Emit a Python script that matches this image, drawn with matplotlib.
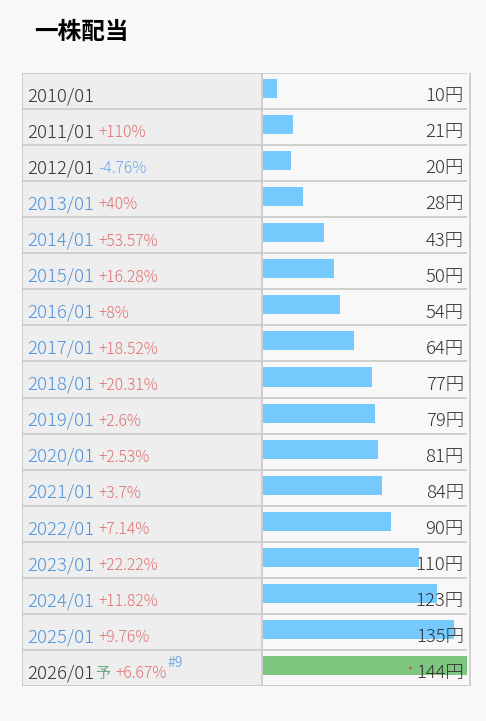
import matplotlib.pyplot as plt
from matplotlib.patches import Rectangle

plt.rcParams['font.family'] = ['Noto Sans CJK JP', 'DejaVu Sans']

# data
months = ["2010/01", "2011/01", "2012/01", "2013/01", "2014/01", "2015/01",
          "2016/01", "2017/01", "2018/01", "2019/01", "2020/01", "2021/01",
          "2022/01", "2023/01", "2024/01", "2025/01", "2026/01"]
dividends = [10, 21, 20, 28, 43, 50, 54, 64, 77, 79, 81, 84, 90, 110, 123, 135, 144]
changes = ["", "+110%", "-4.76%", "+40%", "+53.57%", "+16.28%", "+8%", "+18.52%",
           "+20.31%", "+2.6%", "+2.53%", "+3.7%", "+7.14%", "+22.22%", "+11.82%",
           "+9.76%", "+6.67%"]
forecast = [False] * 16 + [True]

W, H = 486, 721
BG = "#f8f8f8"
GRID = "#cccccc"
DARK = "#333333"
BLUE_TXT = "#4e94dc"
RED_TXT = "#e07070"
NEG_TXT = "#6aa6f2"
BAR = "#76c9fd"
GREEN = "#7dc67f"

fig = plt.figure(figsize=(W / 100, H / 100), dpi=100)
fig.patch.set_facecolor(BG)

fig.text(34 / W, 1 - 32 / H, "一株配当", fontsize=17, fontweight="bold",
         color="black", va="center", ha="left")

n = len(months)
top, bottom = 73, 686
left, mid, right = 22, 262, 471

# bar axes (drawn underneath)
axb = fig.add_axes([263 / W, 1 - bottom / H, (467 - 263) / W, (bottom - top) / H])
axb.set_xlim(0, max(dividends))
axb.set_ylim(n, 0)
axb.axis("off")
ys = [i + 6 / 36 for i in range(n)]
colors = [GREEN if f else BAR for f in forecast]
axb.barh(ys, dividends, height=19 / 36, align="edge", color=colors)

# table axes (pixel units), on top of the bars
ax = fig.add_axes([left / W, 1 - bottom / H, (right - left) / W, (bottom - top) / H])
ax.set_xlim(left, right)
ax.set_ylim(n, 0)
ax.axis("off")
ax.patch.set_alpha(0)
ax.add_patch(Rectangle((left, 0), mid - left, n, facecolor="#eeeeee", edgecolor="none"))
for i in range(n + 1):
    ax.plot([left, 467], [i, i], color=GRID, lw=1.3, solid_capstyle="butt")
ax.plot([left, left], [0, n], color=GRID, lw=1.3)
ax.plot([mid, mid], [0, n], color=GRID, lw=1.3)
ax.plot([right - 1, right - 1], [0, n], color=GRID, lw=1.3)
ax.plot([left, right], [n, n], color=GRID, lw=1.3)

fs = 13.3
for i, (m, v, c, f) in enumerate(zip(months, dividends, changes, forecast)):
    yb = i + 0.785
    mcol = DARK if (i < 3 or f) else BLUE_TXT
    ax.text(27, yb, m, fontsize=fs, color=mcol, va="baseline", ha="left",
            fontweight="light")
    x = 98
    if f:
        ax.text(95, yb, "予", fontsize=11, color="#6aaa88", va="baseline", ha="left")
        x = 115
    if c:
        ccol = NEG_TXT if c.startswith("-") else RED_TXT
        ax.text(x, yb, c, fontsize=11.3, color=ccol, va="baseline", ha="left",
                fontweight="light")
    if f:
        ax.text(167, yb - 0.3, "#9", fontsize=10, color="#7aa8dd", va="baseline", ha="left")
        ax.text(412, yb - 0.12, "*", fontsize=7.5, color="#e04040", va="baseline", ha="right")
    ax.text(464, yb, f"{v}円", fontsize=fs, color=DARK, va="baseline", ha="right",
            fontweight="light", zorder=5)

fig.savefig("out.png", dpi=100, facecolor=BG)
